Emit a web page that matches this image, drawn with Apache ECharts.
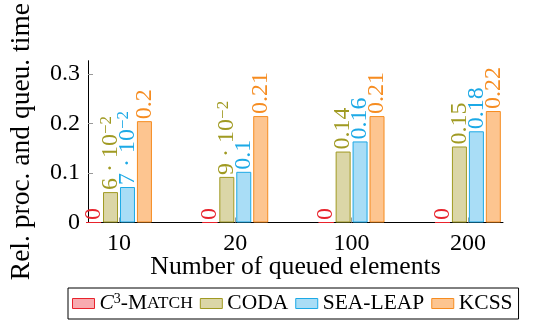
<!DOCTYPE html>
<html>
<head>
<meta charset="utf-8">
<script src="https://cdn.jsdelivr.net/npm/echarts@6/dist/echarts.min.js"></script>
<style>
html,body{margin:0;padding:0;background:#fff;}
#chart{width:548px;height:324px;}
</style>
</head>
<body>
<div id="chart"></div>
<script>
const categories = ['10', '20', '100', '200'];
const seriesNames = ['C3-MATCH', 'CODA', 'SEA-LEAP', 'KCSS'];
const c3match = [0, 0, 0, 0];
const coda = [0.06, 0.09, 0.14, 0.15];
const sealeap = [0.07, 0.1, 0.16, 0.18];
const kcss = [0.2, 0.21, 0.21, 0.22];
const yTicks = [0, 0.1, 0.2, 0.3];

const FONT = 'Liberation Serif';
const fills = ['#f8abb0', '#dbd6a7', '#a9ddf6', '#fdc590'];
const strokes = ['#e8232c', '#a09a22', '#1ca9e6', '#f68c20'];
const values = [c3match, coda, sealeap, kcss];

const plotTop = 57, plotH = 165.5;
const axLeft = 85, axW = 418;
const catW = 116.3;
const barLeft = 119 - catW / 2;

function labelFmt(p) {
  const v = p.value;
  if (v === 0) return '0';
  if (v < 0.1) {
    const m = Math.round(v * 100);
    return '{n|' + m + ' · 10}{s|−2}';
  }
  return String(v);
}

const series = seriesNames.map((name, i) => ({
  name: name,
  type: 'bar',
  xAxisIndex: 0,
  yAxisIndex: 0,
  data: values[i],
  barWidth: 15,
  barGap: '13%',
  itemStyle: { color: fills[i], borderColor: strokes[i], borderWidth: 1 },
  label: {
    show: true,
    position: 'top',
    rotate: 90,
    align: 'left',
    verticalAlign: 'middle',
    distance: 2,
    color: strokes[i],
    fontFamily: FONT,
    fontSize: 24,
    formatter: labelFmt,
    rich: {
      n: { color: strokes[i], fontFamily: FONT, fontSize: 24 },
      s: { color: strokes[i], fontFamily: FONT, fontSize: 17, verticalAlign: 'top' }
    }
  },
  emphasis: { disabled: true }
}));

const chart = echarts.init(document.getElementById('chart'), null, { renderer: 'canvas' });
chart.setOption({
  animation: false,
  backgroundColor: '#fff',
  grid: [
    { left: barLeft, top: plotTop, width: catW * 4, height: plotH },
    { left: axLeft, top: plotTop, width: axW, height: plotH }
  ],
  xAxis: [
    {
      type: 'category', gridIndex: 0, data: categories,
      axisLine: { show: false },
      axisTick: { show: true, alignWithLabel: true, inside: true, length: 5, lineStyle: { color: '#999', width: 1 } },
      axisLabel: { color: '#000', fontFamily: FONT, fontSize: 24, margin: 9 },
      splitLine: { show: false }
    },
    {
      type: 'value', gridIndex: 1, min: 0, max: 1,
      axisLine: { show: true, onZero: false, lineStyle: { color: '#000', width: 1 } },
      axisTick: { show: false }, axisLabel: { show: false }, splitLine: { show: false },
      name: 'Number of queued elements', nameLocation: 'middle', nameGap: 32,
      nameTextStyle: { color: '#000', fontFamily: FONT, fontSize: 25.7 }
    }
  ],
  yAxis: [
    { type: 'value', gridIndex: 0, min: 0, max: 0.3266, show: false },
    {
      type: 'value', gridIndex: 1, min: 0, max: 0.3266,
      axisLine: { show: true, lineStyle: { color: '#000', width: 1 } },
      axisTick: { show: true, inside: true, length: 5, customValues: yTicks, lineStyle: { color: '#999', width: 1 } },
      axisLabel: { color: '#000', fontFamily: FONT, fontSize: 24, margin: 8, customValues: yTicks, formatter: v => String(v) },
      splitLine: { show: false },
      name: 'Rel. proc. and queu. time', nameLocation: 'middle', nameGap: 52,
      nameTextStyle: { color: '#000', fontFamily: FONT, fontSize: 27.5 }
    }
  ],
  legend: {
    left: 68, top: 288,
    orient: 'horizontal',
    padding: [4, 6, 4, 4],
    borderColor: '#000', borderWidth: 1,
    itemWidth: 22, itemHeight: 10, itemGap: 7,
    selectedMode: false,
    data: seriesNames.map((n, i) => ({ name: n, icon: 'rect', itemStyle: { color: fills[i], borderColor: strokes[i], borderWidth: 1 } })),
    formatter: n => n === 'C3-MATCH' ? '{it|C}{sup|3}{t|-M}{sc|ATCH}' : n,
    textStyle: {
      color: '#000', fontFamily: FONT, fontSize: 21.5, lineHeight: 23,
      rich: {
        it: { fontFamily: FONT, fontSize: 21.5, fontStyle: 'italic', color: '#000' },
        sup: { fontFamily: FONT, fontSize: 14, verticalAlign: 'top', color: '#000' },
        t: { fontFamily: FONT, fontSize: 21.5, color: '#000' },
        sc: { fontFamily: FONT, fontSize: 17.5, color: '#000' }
      }
    }
  },
  series: series
});
</script>
</body>
</html>
